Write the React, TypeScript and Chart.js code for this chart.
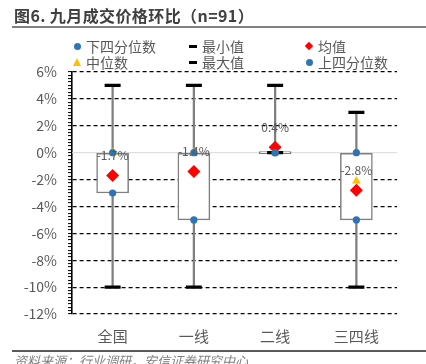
import React, { useEffect, useRef } from 'react';
import { Chart, registerables } from 'chart.js';

Chart.register(...registerables);

const categories = ['全国', '一线', '二线', '三四线'];
const minValues = [-10, -10, 0, -10];
const maxValues = [5, 5, 5, 3];
const q1Values = [-3, -5, 0, -5];
const q3Values = [0, 0, 0, 0];
const medianValues = [0, 0, 0, -2.1];
const meanValues = [-1.7, -1.4, 0.4, -2.8];
const yMin = -12;
const yMax = 6;
const yMajorStep = 2;
const yMinorStep = 0.25;

const FONT = '"Noto Sans CJK SC", "Noto Sans", sans-serif';
const GRAY_TEXT = '#595959';

const overlayPlugin = {
  id: 'overlay',
  beforeDatasetsDraw(chart: any) {
    const { ctx, chartArea, scales } = chart;
    const y0 = scales.y.getPixelForValue(0);
    ctx.save();
    ctx.strokeStyle = '#d9d9d9';
    ctx.lineWidth = 1;
    ctx.beginPath();
    ctx.moveTo(chartArea.left, y0);
    ctx.lineTo(chartArea.right, y0);
    ctx.stroke();
    ctx.restore();
  },
  afterDatasetsDraw(chart: any) {
    const { ctx, scales } = chart;
    ctx.save();
    ctx.font = `12px ${FONT}`;
    ctx.fillStyle = GRAY_TEXT;
    ctx.textAlign = 'center';
    ctx.textBaseline = 'middle';
    meanValues.forEach((v, i) => {
      const px = scales.x.getPixelForValue(i);
      const py = scales.y.getPixelForValue(v) - 20;
      ctx.fillText(`${v.toFixed(1)}%`, px, py);
    });
    ctx.restore();
  },
};

function BoxChart() {
  const ref = useRef<HTMLCanvasElement>(null);
  useEffect(() => {
    const canvas = ref.current;
    if (!canvas) return;
    const pointDs = (label: string, data: number[], extra: any, order: number) => ({
      type: 'line',
      label,
      data,
      showLine: false,
      order,
      ...extra,
    });
    const chart = new Chart(canvas, {
      type: 'bar',
      data: {
        labels: categories,
        datasets: [
          {
            type: 'bar',
            label: 'whisker',
            data: minValues.map((v, i) => [v, maxValues[i]]),
            backgroundColor: '#7f7f7f',
            borderWidth: 0,
            barThickness: 1.6,
            grouped: false,
            order: 10,
          },
          {
            type: 'bar',
            label: 'box',
            data: q1Values.map((v, i) => [v, q3Values[i]]),
            backgroundColor: '#ffffff',
            borderColor: '#7f7f7f',
            borderWidth: 1.5,
            borderSkipped: false,
            minBarLength: 2,
            barThickness: 32,
            grouped: false,
            order: 9,
          },
          pointDs('中位数', medianValues, {
            pointStyle: 'triangle', pointRadius: 5, pointBackgroundColor: '#FFC000', pointBorderColor: '#FFC000', pointBorderWidth: 0,
          }, 8),
          pointDs('最小值', minValues, {
            pointStyle: 'line', pointRadius: 8, pointBorderColor: '#000000', pointBorderWidth: 3.2,
          }, 7),
          pointDs('最大值', maxValues, {
            pointStyle: 'line', pointRadius: 8, pointBorderColor: '#000000', pointBorderWidth: 3.2,
          }, 6),
          pointDs('均值', meanValues, {
            pointStyle: 'rectRot', pointRadius: 6.5, pointBackgroundColor: '#FF0000', pointBorderColor: '#FF0000', pointBorderWidth: 0,
          }, 5),
          pointDs('下四分位数', q1Values, {
            pointStyle: 'circle', pointRadius: 3.6, pointBackgroundColor: '#2E75B6', pointBorderColor: '#2E75B6', pointBorderWidth: 0,
          }, 4),
          pointDs('上四分位数', q3Values, {
            pointStyle: 'circle', pointRadius: 3.6, pointBackgroundColor: '#2E75B6', pointBorderColor: '#2E75B6', pointBorderWidth: 0,
          }, 3),
        ] as any,
      },
      options: {
        responsive: false,
        animation: false,
        events: [],
        layout: { padding: { left: 0, top: 72, right: 29, bottom: 0 } },
        plugins: {
          legend: { display: false },
          tooltip: { enabled: false },
        },
        scales: {
          x: {
            grid: { display: false, drawTicks: false },
            border: { display: false },
            ticks: {
              color: GRAY_TEXT,
              font: { family: FONT, size: 15 },
              padding: 13,
            },
            afterFit: (s: any) => { s.height = 50; },
          },
          y: {
            min: yMin,
            max: yMax,
            afterFit: (s: any) => { s.width = 72; },
            ticks: {
              stepSize: yMinorStep,
              autoSkip: false,
              color: GRAY_TEXT,
              font: { family: FONT, size: 14 },
              padding: 11,
              callback: (v: any) => (Math.abs(v % yMajorStep) < 1e-9 ? `${v}%` : ''),
            },
            grid: {
              color: (c: any) => {
                const v = c.tick ? c.tick.value : NaN;
                if (Math.abs(v % yMajorStep) < 1e-9 && v !== 0) return '#000000';
                return 'rgba(0,0,0,0)';
              },
              lineWidth: 1.2,
              tickColor: '#000000',
              tickLength: 4,
              tickWidth: 1,
            },
            border: { display: true, color: '#000000', width: 1.6, dash: [4, 3] },
          },
        },
      } as any,
      plugins: [overlayPlugin],
    });
    return () => chart.destroy();
  }, []);
  return <canvas ref={ref} width={426} height={364} style={{ position: 'absolute', left: 0, top: 0 }} />;
}

const legendItems = [
  { label: '下四分位数', marker: 'dot', x: 77, y: 46 },
  { label: '最小值', marker: 'dash', x: 193, y: 46 },
  { label: '均值', marker: 'diamond', x: 309, y: 46 },
  { label: '中位数', marker: 'triangle', x: 77, y: 62 },
  { label: '最大值', marker: 'dash', x: 193, y: 62 },
  { label: '上四分位数', marker: 'dot', x: 309, y: 62 },
];

function Marker({ kind, x, y }: { kind: string; x: number; y: number }) {
  const base: any = { position: 'absolute' };
  if (kind === 'dot') return <div style={{ ...base, left: x - 3.5, top: y - 3.5, width: 7, height: 7, borderRadius: '50%', background: '#2E75B6' }} />;
  if (kind === 'dash') return <div style={{ ...base, left: x - 4, top: y - 1.5, width: 8, height: 3, background: '#000' }} />;
  if (kind === 'diamond') return <div style={{ ...base, left: x - 3, top: y - 3, width: 6, height: 6, background: '#FF0000', transform: 'rotate(45deg)' }} />;
  return <div style={{ ...base, left: x - 4, top: y - 4, width: 0, height: 0, borderLeft: '4px solid transparent', borderRight: '4px solid transparent', borderBottom: '8px solid #FFC000' }} />;
}

export default function App() {
  return (
    <div style={{ position: 'absolute', left: 0, top: 0, width: 426, height: 364, overflow: 'hidden', background: '#fff', fontFamily: FONT }}>
      <BoxChart />
      <div style={{ position: 'absolute', left: 14, top: 4, fontSize: 16, fontWeight: 'bold', color: '#404040', letterSpacing: 0.4, whiteSpace: 'nowrap', lineHeight: '22px' }}>
        图6. 九月成交价格环比（n=91）
      </div>
      <div style={{ position: 'absolute', left: 12, top: 26, width: 414, height: 2, background: '#808080' }} />
      {legendItems.map((it, i) => (
        <React.Fragment key={i}>
          <Marker kind={it.marker} x={it.x} y={it.y} />
          <div style={{ position: 'absolute', left: it.x + 9, top: it.y - 10, fontSize: 14, lineHeight: '20px', color: GRAY_TEXT, whiteSpace: 'nowrap' }}>{it.label}</div>
        </React.Fragment>
      ))}
      <div style={{ position: 'absolute', left: 12, top: 350, width: 414, height: 2, background: '#595959' }} />
      <div style={{ position: 'absolute', left: 14, top: 352, fontSize: 13, fontStyle: 'italic', color: '#7f7f7f', whiteSpace: 'nowrap', lineHeight: '18px' }}>
        资料来源：行业调研，安信证券研究中心
      </div>
    </div>
  );
}
